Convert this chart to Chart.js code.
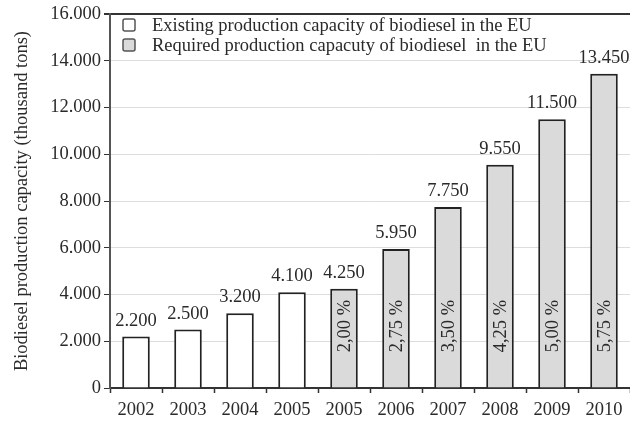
<!DOCTYPE html>
<html lang="en">
<head>
    <meta charset="UTF-8">
    <title>Biodiesel production capacity in the EU</title>
    <style>
        body {
            margin: 0;
            background-color: #fff;
        }
        .container {
            width: 630px;
            height: 426px;
        }
    </style>
</head>
<body>
    <div class="container">
        <canvas id="capacityChart" width="630" height="426"></canvas>
    </div>

    <script src="https://cdn.jsdelivr.net/npm/chart.js"></script>
    <script>
        // Years on the x axis (2005 appears twice: existing and required)
        const years = ['2002', '2003', '2004', '2005', '2005', '2006', '2007', '2008', '2009', '2010'];
        // Thousand tons
        const existingCapacity = [2200, 2500, 3200, 4100, null, null, null, null, null, null];
        const requiredCapacity = [null, null, null, null, 4250, 5950, 7750, 9550, 11500, 13450];
        // Biodiesel share target, percent
        const shares = [null, null, null, null, 2.00, 2.75, 3.50, 4.25, 5.00, 5.75];
        const yTicks = [0, 2000, 4000, 6000, 8000, 10000, 12000, 14000, 16000];

        const textColor = '#2a2a2a';
        const serif = '"Liberation Serif", "Times New Roman", serif';
        const fontSize = 18.5;

        function thousands(v) {
            return String(v).replace(/\B(?=(\d{3})+(?!\d))/g, '.');
        }

        // value labels above bars, share labels inside bars, and the legend box
        const annotate = {
            id: 'annotate',
            afterDatasetsDraw(chart) {
                const ctx = chart.ctx;
                const yScale = chart.scales.y;
                ctx.save();
                ctx.fillStyle = textColor;
                ctx.font = fontSize + 'px ' + serif;
                ctx.textAlign = 'center';
                ctx.textBaseline = 'alphabetic';
                chart.data.datasets.forEach((ds, di) => {
                    const meta = chart.getDatasetMeta(di);
                    meta.data.forEach((bar, i) => {
                        if (ds.data[i] == null) return;
                        ctx.fillText(thousands(ds.data[i]), bar.x, bar.y - 11);
                    });
                });

                // rotated share percentages, all at the same height
                const midY = yScale.getPixelForValue(2650);
                const meta = chart.getDatasetMeta(1);
                shares.forEach((s, i) => {
                    if (s == null) return;
                    ctx.save();
                    ctx.translate(meta.data[i].x, midY);
                    ctx.rotate(-Math.PI / 2);
                    ctx.textBaseline = 'middle';
                    ctx.fillText(s.toFixed(2).replace('.', ',') + ' %', 0, 1);
                    ctx.restore();
                });

                // legend
                const lx = chart.chartArea.left + 13;
                ctx.textAlign = 'left';
                ctx.textBaseline = 'middle';
                chart.data.datasets.forEach((ds, di) => {
                    const cy = chart.chartArea.top + 11 + di * 20;
                    ctx.beginPath();
                    ctx.roundRect(lx, cy - 6, 12, 12, 2);
                    ctx.fillStyle = ds.backgroundColor;
                    ctx.fill();
                    ctx.lineWidth = 1.5;
                    ctx.strokeStyle = '#555';
                    ctx.stroke();
                    ctx.fillStyle = textColor;
                    ctx.fillText(ds.label, lx + 29, cy + 1);
                });
                ctx.restore();
            }
        };

        const ctx = document.getElementById('capacityChart').getContext('2d');
        new Chart(ctx, {
            type: 'bar',
            data: {
                labels: years,
                datasets: [
                    {
                        label: 'Existing production capacity of biodiesel in the EU',
                        data: existingCapacity,
                        backgroundColor: '#ffffff',
                        borderColor: '#222',
                        borderWidth: 2,
                        borderSkipped: 'bottom'
                    },
                    {
                        label: 'Required production capacuty of biodiesel  in the EU',
                        data: requiredCapacity,
                        backgroundColor: '#dadada',
                        borderColor: '#222',
                        borderWidth: 2,
                        borderSkipped: 'bottom'
                    }
                ]
            },
            options: {
                responsive: false,
                animation: false,
                layout: {
                    padding: { top: 13, right: 0, left: 0, bottom: 0 }
                },
                datasets: {
                    bar: {
                        barPercentage: 0.53,
                        categoryPercentage: 1
                    }
                },
                plugins: {
                    legend: { display: false },
                    tooltip: { enabled: false }
                },
                scales: {
                    x: {
                        stacked: true,
                        grid: {
                            offset: true,
                            drawOnChartArea: false,
                            tickLength: 5,
                            tickColor: '#333',
                            tickWidth: 1.5
                        },
                        border: { color: '#333', width: 2 },
                        ticks: {
                            color: textColor,
                            font: { family: serif, size: fontSize },
                            padding: 6,
                            maxRotation: 0,
                            autoSkip: false
                        },
                        afterFit(scale) { scale.height = 38; }
                    },
                    y: {
                        stacked: true,
                        min: 0,
                        max: 16000,
                        afterBuildTicks(scale) {
                            scale.ticks = yTicks.map(v => ({ value: v }));
                        },
                        grid: {
                            color: c => c.tick && c.tick.value === 16000 ? '#333' : '#dddddd',
                            lineWidth: c => c.tick && c.tick.value === 16000 ? 2 : 1,
                            tickLength: 6,
                            tickColor: '#333'
                        },
                        border: { color: '#555', width: 2 },
                        ticks: {
                            color: textColor,
                            font: { family: serif, size: fontSize },
                            padding: 3,
                            callback: v => thousands(v)
                        },
                        title: {
                            display: true,
                            text: 'Biodiesel production capacity (thousand tons)',
                            color: textColor,
                            font: { family: serif, size: fontSize },
                            padding: { top: 11, bottom: 0 }
                        },
                        afterFit(scale) { scale.width = 110; }
                    }
                }
            },
            plugins: [annotate]
        });
    </script>
</body>
</html>
